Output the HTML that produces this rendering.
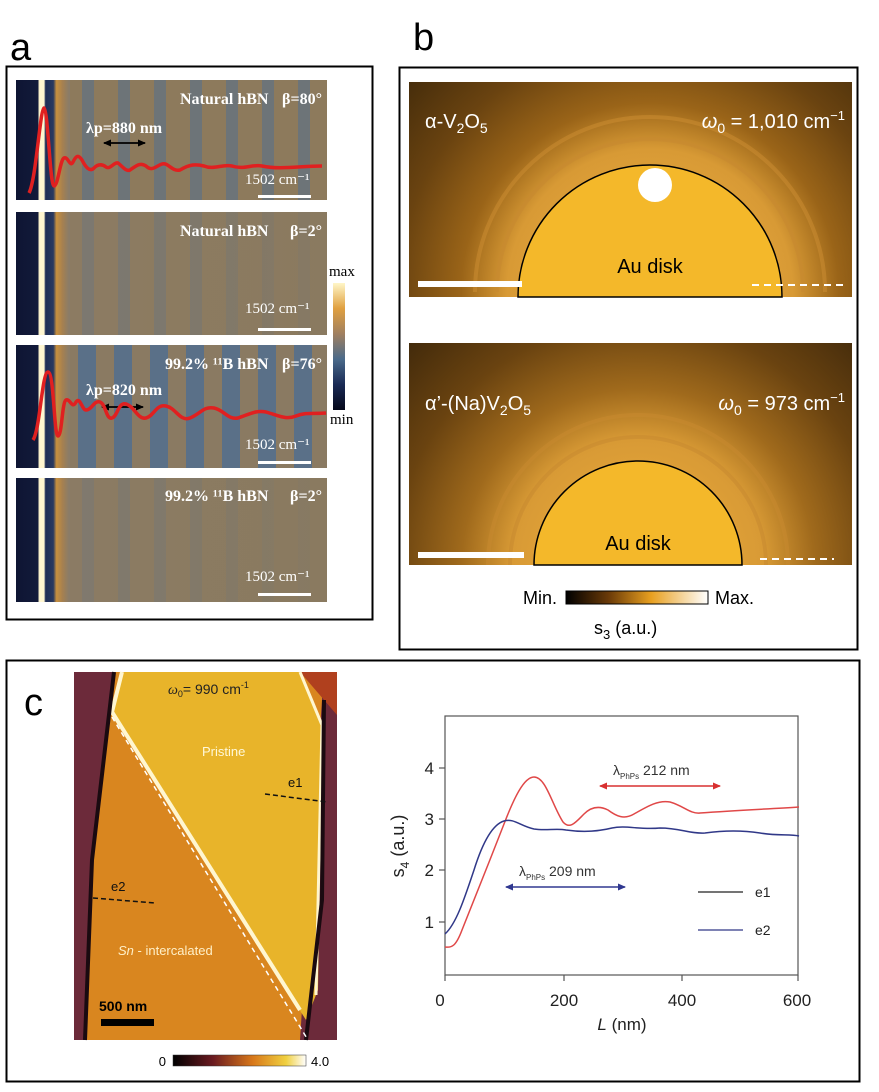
<!DOCTYPE html>
<html><head><meta charset="utf-8"><style>
body{margin:0;background:#fff;width:879px;height:1087px;overflow:hidden;font-family:"Liberation Sans",sans-serif}
</style></head><body>
<svg width="879" height="1087" viewBox="0 0 879 1087" xmlns="http://www.w3.org/2000/svg">
<defs>
<linearGradient id="rowA" x1="0" x2="1">
<stop offset="0" stop-color="#0e1533"/><stop offset="0.07" stop-color="#121a3a"/>
<stop offset="0.075" stop-color="#fff6d0"/><stop offset="0.09" stop-color="#fff6d0"/>
<stop offset="0.095" stop-color="#1e2c55"/><stop offset="0.12" stop-color="#2a3a60"/>
<stop offset="0.13" stop-color="#c8903e"/><stop offset="0.15" stop-color="#a58050"/>
<stop offset="0.17" stop-color="#8a7c68"/><stop offset="1" stop-color="#8a7a60"/>
</linearGradient>
<pattern id="stripes" width="36" height="10" patternUnits="userSpaceOnUse" x="62">
<rect width="36" height="10" fill="#8d7a5c"/><rect x="20" width="12" height="10" fill="#6d7478"/>
</pattern>
<pattern id="stripes3" width="36" height="10" patternUnits="userSpaceOnUse" x="62">
<rect width="36" height="10" fill="#8a7a62"/><rect x="16" width="18" height="10" fill="#5a7088"/>
</pattern>
<linearGradient id="fadeR" x1="0" x2="1"><stop offset="0" stop-color="#8a7a60" stop-opacity="0"/><stop offset="1" stop-color="#8a7a60" stop-opacity="0.8"/></linearGradient>
<linearGradient id="cbA" x1="0" y1="0" x2="0" y2="1">
<stop offset="0" stop-color="#fff6c8"/><stop offset="0.2" stop-color="#e0a040"/><stop offset="0.4" stop-color="#a08060"/><stop offset="0.6" stop-color="#4a6a8a"/><stop offset="0.8" stop-color="#1a2a55"/><stop offset="1" stop-color="#05081a"/>
</linearGradient>
<radialGradient id="bgB1" cx="650" cy="292" r="420" gradientUnits="userSpaceOnUse">
<stop offset="0" stop-color="#f0b040"/><stop offset="0.34" stop-color="#d89a35"/><stop offset="0.45" stop-color="#9a6418"/><stop offset="0.6" stop-color="#6a4310"/><stop offset="0.8" stop-color="#3e280a"/><stop offset="1" stop-color="#24170a"/>
</radialGradient>
<radialGradient id="bgB2" cx="638" cy="565" r="420" gradientUnits="userSpaceOnUse">
<stop offset="0" stop-color="#f0b040"/><stop offset="0.3" stop-color="#d89a35"/><stop offset="0.42" stop-color="#a06a1c"/><stop offset="0.58" stop-color="#6a4310"/><stop offset="0.8" stop-color="#3a250a"/><stop offset="1" stop-color="#20140a"/>
</radialGradient>
<linearGradient id="cbB" x1="0" x2="1"><stop offset="0" stop-color="#000"/><stop offset="0.3" stop-color="#6a3a08"/><stop offset="0.6" stop-color="#e8a020"/><stop offset="1" stop-color="#fff"/></linearGradient>
<linearGradient id="cbC" x1="0" x2="1"><stop offset="0" stop-color="#000"/><stop offset="0.3" stop-color="#6a1a20"/><stop offset="0.6" stop-color="#d8781a"/><stop offset="0.85" stop-color="#f0d040"/><stop offset="1" stop-color="#fff"/></linearGradient>
<marker id="ab" markerUnits="userSpaceOnUse" markerWidth="8" markerHeight="7" refX="7" refY="3.5" orient="auto-start-reverse"><path d="M0,0 L8,3.5 L0,7z" fill="#000"/></marker>
<marker id="ar" markerUnits="userSpaceOnUse" markerWidth="8" markerHeight="7" refX="7" refY="3.5" orient="auto-start-reverse"><path d="M0,0 L8,3.5 L0,7z" fill="#d83030"/></marker>
<marker id="abl" markerUnits="userSpaceOnUse" markerWidth="8" markerHeight="7" refX="7" refY="3.5" orient="auto-start-reverse"><path d="M0,0 L8,3.5 L0,7z" fill="#303890"/></marker>
</defs>

<!-- Panel a -->
<text x="10" y="60" font-size="38">a</text>
<rect x="6.5" y="66.5" width="366" height="553" fill="none" stroke="#000" stroke-width="2"/>
<g font-family="Liberation Serif,serif" fill="#fff" xml:space="preserve">
<rect x="16" y="80" width="311" height="120" fill="url(#rowA)"/>
<rect x="70" y="80" width="257" height="120" fill="url(#stripes)"/>
<rect x="16" y="212" width="311" height="123" fill="url(#rowA)"/>
<rect x="70" y="212" width="257" height="123" fill="url(#stripes)" opacity="0.5"/>
<rect x="16" y="345" width="311" height="123" fill="url(#rowA)"/>
<rect x="70" y="345" width="257" height="123" fill="url(#stripes3)"/>
<rect x="16" y="478" width="311" height="124" fill="url(#rowA)"/>
<rect x="70" y="478" width="257" height="124" fill="url(#stripes)" opacity="0.35"/>
<rect x="150" y="212" width="177" height="123" fill="url(#fadeR)"/>
<rect x="150" y="478" width="177" height="124" fill="url(#fadeR)"/>
<text x="180" y="104" font-size="16" font-weight="bold">Natural hBN</text><text x="322" y="104" font-size="16" font-weight="bold" text-anchor="end">β=80°</text>
<text x="86" y="133" font-size="16" font-weight="bold">λp=880 nm</text>
<text x="180" y="236" font-size="16" font-weight="bold">Natural hBN</text><text x="322" y="236" font-size="16" font-weight="bold" text-anchor="end">β=2°</text>
<text x="165" y="369" font-size="16" font-weight="bold">99.2% ¹¹B hBN</text><text x="322" y="369" font-size="16" font-weight="bold" text-anchor="end">β=76°</text>
<text x="86" y="395" font-size="16" font-weight="bold">λp=820 nm</text>
<text x="165" y="501" font-size="16" font-weight="bold">99.2% ¹¹B hBN</text><text x="322" y="501" font-size="16" font-weight="bold" text-anchor="end">β=2°</text>
<g font-size="15"><text x="245" y="184">1502 cm⁻¹</text><text x="245" y="313">1502 cm⁻¹</text><text x="245" y="449">1502 cm⁻¹</text><text x="245" y="581">1502 cm⁻¹</text></g>
<g fill="#fff"><rect x="258" y="195" width="53" height="3"/><rect x="258" y="328" width="53" height="3"/><rect x="258" y="461" width="53" height="3"/><rect x="258" y="593" width="53" height="3"/></g>
</g>
<line x1="104" y1="143" x2="145" y2="143" stroke="#000" stroke-width="1.8" marker-start="url(#ab)" marker-end="url(#ab)"/>
<line x1="102" y1="407" x2="143" y2="407" stroke="#000" stroke-width="1.8" marker-start="url(#ab)" marker-end="url(#ab)"/>
<path fill="none" stroke="#e02020" stroke-width="3.5" stroke-linejoin="round" d="M29,193 C36,180 40,110 44,108 C48,110 50,186 54,186 C58,186 60,160 64,158 C68,156 70,168 73,162 C76,156 78,154 82,160 C86,168 90,172 94,168 C98,164 102,164 106,167 C110,170 114,162 118,163 C122,166 126,172 130,170 C136,166 140,162 146,166 C152,172 156,166 162,164 C168,162 172,172 180,170 C190,164 196,164 204,166 C214,170 222,164 232,166 C244,170 252,164 262,166 C280,170 300,166 322,166"/>
<path fill="none" stroke="#e02020" stroke-width="3.5" stroke-linejoin="round" d="M33,440 C40,430 42,372 48,372 C54,372 54,436 58,436 C62,436 62,402 66,400 C70,398 72,410 76,402 C80,396 82,410 86,410 C92,410 94,400 100,402 C106,404 106,420 112,418 C118,416 118,402 126,404 C134,406 138,420 146,418 C154,416 156,404 166,406 C176,408 180,422 190,418 C200,414 204,406 214,408 C224,410 228,420 238,418 C250,414 256,410 266,412 C280,416 286,420 296,416 C306,412 314,414 326,413"/>
<rect x="333" y="283" width="12" height="127" fill="url(#cbA)"/>
<g font-family="Liberation Serif,serif" font-size="15"><text x="329" y="276">max</text><text x="330" y="424">min</text></g>

<!-- Panel b -->
<text x="413" y="50" font-size="38">b</text>
<rect x="399.5" y="67.5" width="458" height="582" fill="none" stroke="#000" stroke-width="2"/>
<rect x="409" y="82" width="443" height="215" fill="url(#bgB1)"/>
<g fill="none" stroke="#c88a30" stroke-width="4" opacity="0.6"><path d="M497,292 A153,153 0 0 1 803,292"/><path d="M475,292 A175,175 0 0 1 825,292"/></g>
<path d="M518,297 A132,132 0 0 1 782,297 Z" fill="#f4b82a" stroke="#000" stroke-width="1.5"/>
<circle cx="655" cy="185" r="17" fill="#fff"/>
<text x="650" y="273" font-size="20" text-anchor="middle">Au disk</text>
<text x="425" y="128" font-size="20" fill="#fff">α-V<tspan font-size="14" dy="5">2</tspan><tspan dy="-5">O</tspan><tspan font-size="14" dy="5">5</tspan></text>
<text x="845" y="128" font-size="20" fill="#fff" text-anchor="end"><tspan font-style="italic">ω</tspan><tspan font-size="14" dy="5">0</tspan><tspan dy="-5"> = 1,010 cm</tspan><tspan font-size="13" dy="-8">−1</tspan></text>
<rect x="418" y="281" width="104" height="6" fill="#fff"/>
<line x1="752" y1="285" x2="846" y2="285" stroke="#fff" stroke-width="2" stroke-dasharray="7,5"/>

<rect x="409" y="343" width="443" height="222" fill="url(#bgB2)"/>
<g fill="none" stroke="#c88a30" stroke-width="4" opacity="0.55"><path d="M510,565 A128,128 0 0 1 766,565"/><path d="M488,565 A150,150 0 0 1 788,565"/></g>
<path d="M534,565 A104,104 0 0 1 742,565 Z" fill="#f4b82a" stroke="#000" stroke-width="1.5"/>
<text x="638" y="550" font-size="20" text-anchor="middle">Au disk</text>
<text x="425" y="410" font-size="20" fill="#fff">α’-(Na)V<tspan font-size="14" dy="5">2</tspan><tspan dy="-5">O</tspan><tspan font-size="14" dy="5">5</tspan></text>
<text x="845" y="410" font-size="20" fill="#fff" text-anchor="end"><tspan font-style="italic">ω</tspan><tspan font-size="14" dy="5">0</tspan><tspan dy="-5"> = 973 cm</tspan><tspan font-size="13" dy="-8">−1</tspan></text>
<rect x="418" y="552" width="106" height="6" fill="#fff"/>
<line x1="760" y1="559" x2="834" y2="559" stroke="#fff" stroke-width="2" stroke-dasharray="7,5"/>
<rect x="566" y="591" width="142" height="13" fill="url(#cbB)" stroke="#000"/>
<text x="557" y="604" font-size="18" text-anchor="end">Min.</text>
<text x="715" y="604" font-size="18">Max.</text>
<text x="594" y="634" font-size="18">s<tspan font-size="13" dy="5">3</tspan><tspan dy="-5"> (a.u.)</tspan></text>

<!-- Panel c -->
<rect x="6.5" y="660.5" width="853" height="421" fill="none" stroke="#000" stroke-width="2"/>
<text x="24" y="715" font-size="38">c</text>
<rect x="74" y="672" width="263" height="368" fill="#6c2a3a"/>
<polygon points="114,672 322,672 322,700 300,1040 85,1040 92,860" fill="#d9861f"/>
<polygon points="300,672 337,672 337,715" fill="#b0401e"/>
<polygon points="122,672 300,672 322,725 318,990 306,1020 112,715" fill="#e8b42a"/>
<polyline points="122,672 112,712 300,1010" fill="none" stroke="#fff6d0" stroke-width="4"/>
<polyline points="300,672 322,725 316,995" fill="none" stroke="#fff6d0" stroke-width="3"/>
<polyline points="114,672 92,860 85,1040" fill="none" stroke="#1a0a10" stroke-width="4"/>
<polyline points="324,700 322,900 306,1040" fill="none" stroke="#1a0a10" stroke-width="4"/>
<line x1="112" y1="717" x2="308" y2="1040" stroke="#fff" stroke-width="1.5" stroke-dasharray="5,4"/>
<line x1="265" y1="794" x2="327" y2="802" stroke="#111" stroke-width="1.5" stroke-dasharray="5,3"/>
<line x1="93" y1="898" x2="155" y2="903" stroke="#111" stroke-width="1.5" stroke-dasharray="5,3"/>
<text x="168" y="694" font-size="14" fill="#222"><tspan font-style="italic" font-family="Liberation Serif,serif">ω</tspan><tspan font-size="9" dy="3">0</tspan><tspan dy="-3">= 990 cm</tspan><tspan font-size="9" dy="-6">-1</tspan></text>
<text x="202" y="756" font-size="13" fill="#fff8d8">Pristine</text>
<text x="288" y="787" font-size="13" fill="#111">e1</text>
<text x="111" y="891" font-size="13" fill="#111">e2</text>
<text x="118" y="955" font-size="13" fill="#fff0c8"><tspan font-style="italic">Sn</tspan> - intercalated</text>
<text x="99" y="1011" font-size="14" font-weight="bold" fill="#000">500 nm</text>
<rect x="101" y="1019" width="53" height="7" fill="#000"/>
<rect x="173" y="1055" width="133" height="11" fill="url(#cbC)" stroke="#333" stroke-width="0.5"/>
<text x="166" y="1066" font-size="13" text-anchor="end">0</text>
<text x="311" y="1066" font-size="13">4.0</text>

<!-- plot -->
<rect x="445" y="716" width="353" height="259" fill="none" stroke="#555" stroke-width="1.2"/>
<g stroke="#555" stroke-width="1.2"><line x1="439" y1="768" x2="445" y2="768"/><line x1="439" y1="819" x2="445" y2="819"/><line x1="439" y1="870" x2="445" y2="870"/><line x1="439" y1="922" x2="445" y2="922"/><line x1="564" y1="975" x2="564" y2="981"/><line x1="682" y1="975" x2="682" y2="981"/><line x1="445" y1="975" x2="445" y2="981"/><line x1="798" y1="975" x2="798" y2="981"/></g>
<g font-size="17" fill="#222" text-anchor="end"><text x="434" y="774">4</text><text x="434" y="825">3</text><text x="434" y="876">2</text><text x="434" y="928">1</text></g>
<g font-size="17" fill="#222" text-anchor="middle"><text x="440" y="1006">0</text><text x="564" y="1006">200</text><text x="682" y="1006">400</text><text x="797" y="1006">600</text><text x="622" y="1030"><tspan font-style="italic">L</tspan> (nm)</text></g>
<text transform="translate(404,846) rotate(-90)" font-size="18" fill="#222" text-anchor="middle">s<tspan font-size="12" dy="5">4</tspan><tspan dy="-5"> (a.u.)</tspan></text>
<path fill="none" stroke="#e04848" stroke-width="1.5" d="M445,947 C452,948 456,946 462,930 C472,905 490,860 504,824 C514,798 524,777 534,777 C546,777 552,805 563,822 C570,830 576,822 584,814 C592,806 600,806 608,810 C616,816 624,820 634,814 C648,806 658,800 670,802 C684,806 690,814 700,813 C740,810 770,809 799,807"/>
<path fill="none" stroke="#303888" stroke-width="1.5" d="M445,934 C456,924 464,900 474,870 C484,838 494,824 504,821 C514,818 520,826 534,829 C546,831 556,828 566,830 C580,832 596,832 612,828 C626,825 640,830 660,828 C680,828 690,834 705,833 C720,831 740,830 760,833 C778,836 790,834 799,836"/>
<line x1="600" y1="786" x2="720" y2="786" stroke="#d83030" stroke-width="1.5" marker-start="url(#ar)" marker-end="url(#ar)"/>
<line x1="506" y1="887" x2="625" y2="887" stroke="#303890" stroke-width="1.5" marker-start="url(#abl)" marker-end="url(#abl)"/>
<text x="613" y="775" font-size="14" fill="#333">λ<tspan font-size="8" dy="4">PhPs</tspan><tspan dy="-4" font-size="14"> 212 nm</tspan></text>
<text x="519" y="876" font-size="14" fill="#333">λ<tspan font-size="8" dy="4">PhPs</tspan><tspan dy="-4" font-size="14"> 209 nm</tspan></text>
<line x1="698" y1="892" x2="743" y2="892" stroke="#222" stroke-width="1.2"/>
<line x1="698" y1="930" x2="743" y2="930" stroke="#303888" stroke-width="1.2"/>
<text x="755" y="897" font-size="14" fill="#222">e1</text>
<text x="755" y="935" font-size="14" fill="#222">e2</text>
</svg>
</body></html>
